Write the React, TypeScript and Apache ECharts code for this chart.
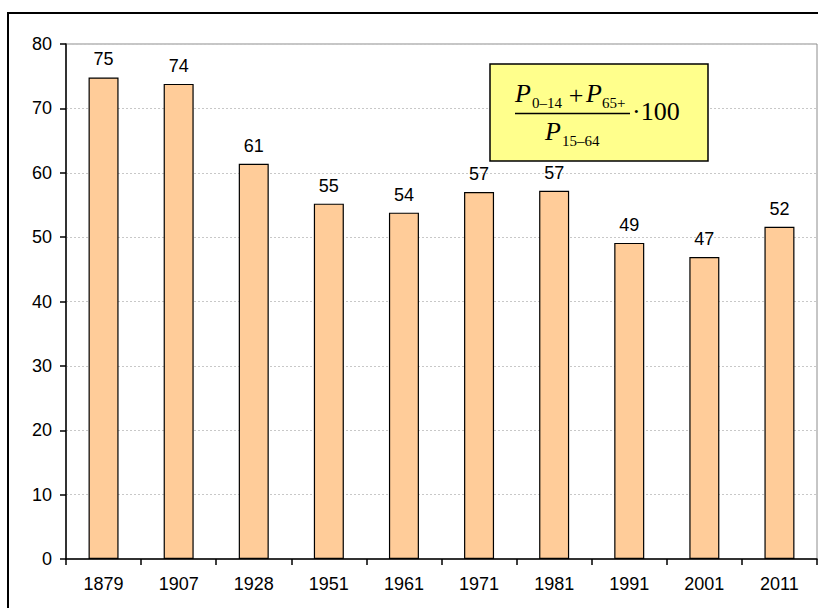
import React, { useEffect, useRef } from "react";
import * as echarts from "echarts";

const years = ["1879", "1907", "1928", "1951", "1961", "1971", "1981", "1991", "2001", "2011"];
const ratios = [74.8, 73.8, 61.4, 55.2, 53.8, 57.0, 57.2, 49.1, 46.9, 51.6];
const yTicks = { min: 0, max: 80, interval: 10 };

const serif = "'Liberation Serif', 'Times New Roman', serif";
const sans = "'Liberation Sans', Arial, sans-serif";

export default function App() {
  const ref = useRef<HTMLDivElement>(null);
  useEffect(() => {
    document.body.style.margin = "0";
    const chart = echarts.init(ref.current!, null, { renderer: "svg" });
    const t = (text: string, x: number, y: number, size: number, italic = false, align = "left") => ({
      type: "text",
      x,
      y,
      z: 102,
      style: {
        text,
        font: `${italic ? "italic " : ""}${size}px ${serif}`,
        fill: "#000",
        align,
        verticalAlign: "middle",
      },
    });
    chart.setOption({
      animation: false,
      backgroundColor: "#fff",
      grid: {
        left: 66,
        right: 1,
        top: 44,
        bottom: 49,
        show: true,
        borderColor: "#8c8c8c",
        borderWidth: 1,
      },
      xAxis: {
        type: "category",
        data: years,
        boundaryGap: true,
        axisLine: { lineStyle: { color: "#000", width: 1.5 } },
        axisTick: { show: true, length: 6, inside: false, lineStyle: { color: "#000", width: 1.5 } },
        axisLabel: { color: "#000", fontSize: 18, fontFamily: sans, margin: 16 },
        splitLine: { show: false },
      },
      yAxis: {
        type: "value",
        min: yTicks.min,
        max: yTicks.max,
        interval: yTicks.interval,
        axisLine: { show: true, lineStyle: { color: "#000", width: 1.5 } },
        axisTick: { show: true, length: 6, lineStyle: { color: "#000", width: 1.5 } },
        axisLabel: { color: "#000", fontSize: 18, fontFamily: sans, margin: 14 },
        splitLine: { show: true, lineStyle: { color: "#c8c8c8", width: 1, type: [2, 2] } },
      },
      series: [
        {
          type: "bar",
          data: ratios,
          barWidth: 30,
          itemStyle: { color: "#FFCC99", borderColor: "#000", borderWidth: 1.2 },
          label: {
            show: true,
            position: "top",
            distance: 9,
            color: "#000",
            fontSize: 18,
            fontFamily: sans,
            formatter: (p: any) => String(Math.round(p.value)),
          },
        },
      ],
      graphic: [
        {
          type: "rect",
          shape: { x: 8, y: 13, width: 900, height: 700 },
          style: { fill: "none", stroke: "#000", lineWidth: 2 },
          z: 100,
          silent: true,
        },
        {
          type: "rect",
          shape: { x: 490, y: 64, width: 218, height: 97 },
          style: { fill: "#FFFF8C", stroke: "#000", lineWidth: 1.5 },
          z: 101,
        },
        {
          type: "line",
          shape: { x1: 515, y1: 113.5, x2: 630, y2: 113.5 },
          style: { stroke: "#000", lineWidth: 1.3 },
          z: 102,
        },
        t("P", 515, 93, 26, true),
        t("0–14", 532, 103, 15),
        t("+", 576, 95, 26, false, "center"),
        t("P", 586, 93, 26, true),
        t("65+", 602, 103, 15),
        t("P", 545, 131, 26, true),
        t("15–64", 562, 141, 15),
        t("·100", 632, 111, 26),
      ],
    });
    return () => chart.dispose();
  }, []);
  return <div ref={ref} style={{ width: 818, height: 608 }} />;
}
